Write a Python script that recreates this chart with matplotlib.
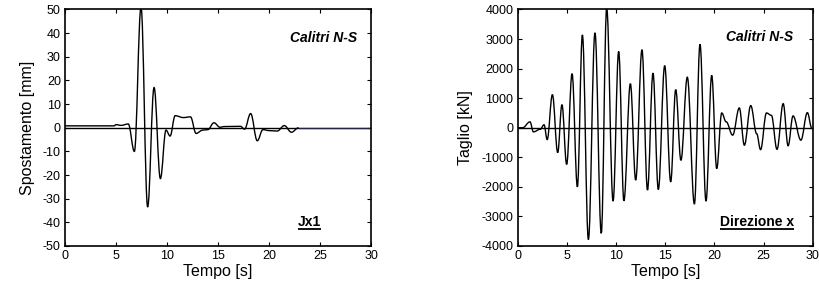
import matplotlib
matplotlib.use('Agg')
import matplotlib.pyplot as plt
from matplotlib.path import Path
from matplotlib.patches import PathPatch

plt.rcParams['font.family'] = ['Liberation Sans', 'DejaVu Sans']
plt.rcParams['axes.unicode_minus'] = False

# Left panel: displacement of joint Jx1 (extrema)
t_disp = [0, 4.8, 5.0, 5.5, 6.2, 6.8, 7.45, 8.1, 8.73, 9.35, 9.9, 10.3, 10.8,
          11.6, 12.3, 12.85, 13.5, 14.0, 14.6, 15.2, 15.6, 17.2, 17.6, 18.2,
          18.85, 19.4, 20.0, 20.8, 21.5, 22.2, 22.9]
v_disp = [0.8, 0.8, 1.3, 1.0, 1.6, -10, 51, -33.5, 17, -21.5, -1.0, -3.5, 5.1,
          4.3, 4.6, -2.4, -1.0, -0.8, 2.1, 0.2, 0.5, 0.6, -0.6, 6.0,
          -5.5, -0.8, -1.2, -1.4, 0.9, -1.9, 0]
t_disp_tail = [22.9, 30]
v_disp_tail = [0, 0]

# Right panel: base shear, direction x
t_shear = [0, 0.5, 1.25, 1.6, 2.3, 2.68, 3.0, 3.53, 4.07, 4.5, 4.98, 5.53, 6.07,
           6.58, 7.19, 7.86, 8.5, 9.05, 9.7, 10.27, 10.8, 11.46, 12.0, 12.64,
           13.2, 13.76, 14.3, 14.95, 15.56, 16.07, 16.6, 17.25, 17.97, 18.54,
           19.15, 19.73, 20.24, 20.75, 21.2, 21.86, 22.54, 23.05, 23.7, 24.3,
           24.7, 25.3, 25.8, 26.37, 27.0, 27.5, 28.0, 28.8, 29.46, 29.9]
v_shear = [0, 0, 200, -140, -50, 100, -400, 1120, -840, 780, -1240, 1830, -2000,
           3140, -3780, 3210, -3570, 4050, -2480, 2580, -2470, 1490, -1770, 2640,
           -2110, 1850, -2090, 2100, -1830, 1290, -1100, 1710, -2580, 2820,
           -2480, 1770, -1380, 500, 200, -250, 670, -590, 750, -200,
           -740, 500, 420, -730, 815, -610, 400, -420, 510, 0]


def smooth_path(t, v, k=0.38):
    # cubic bezier through the read extrema, flat tangent at each point
    verts = [(t[0], v[0])]
    codes = [Path.MOVETO]
    for i in range(1, len(t)):
        dt = t[i] - t[i - 1]
        verts += [(t[i - 1] + k * dt, v[i - 1]), (t[i] - k * dt, v[i]), (t[i], v[i])]
        codes += [Path.CURVE4] * 3
    return Path(verts, codes)


def style_axes(ax):
    for s in ax.spines.values():
        s.set_linewidth(1.2)
    ax.tick_params(direction='in', top=True, right=True, length=3, width=0.8,
                   labelsize=9, pad=3)
    ax.set_xlim(0, 30)
    ax.set_xticks(range(0, 31, 5))
    ax.set_xlabel('Tempo [s]', fontsize=11.5, labelpad=1)


def underline(ax, txt, y_frac):
    # draw a line just under the text baseline, using its rendered width
    fig.canvas.draw()
    bb = txt.get_window_extent().transformed(ax.transAxes.inverted())
    y = y_frac - 0.013
    ax.plot([bb.x0, bb.x1], [y, y], transform=ax.transAxes, color='black',
            lw=1.3, clip_on=False, solid_capstyle='butt')


fig = plt.figure(figsize=(8.19, 2.87), dpi=100)

ax1 = fig.add_axes([0.0794, 0.1429, 0.3736, 0.824])
ax1.axhline(0, color='black', lw=1)
ax1.add_patch(PathPatch(smooth_path(t_disp, v_disp), facecolor='none',
                        edgecolor='black', lw=1))
ax1.plot(t_disp_tail, v_disp_tail, color='#22225a', lw=0.9)
ax1.set_ylim(-50, 50)
ax1.set_yticks(range(-50, 51, 10))
ax1.set_ylabel('Spostamento [mm]', fontsize=11.5, labelpad=6)
style_axes(ax1)
ax1.text(0.954, 0.864, 'Calitri N-S', transform=ax1.transAxes, ha='right',
         va='baseline', fontsize=10, fontweight='bold', fontstyle='italic')
t1 = ax1.text(0.8, 0.085, 'Jx1', transform=ax1.transAxes, ha='center',
              va='baseline', fontsize=10, fontweight='bold')

ax2 = fig.add_axes([0.6321, 0.1429, 0.3602, 0.824])
ax2.axhline(0, color='black', lw=1)
ax2.add_patch(PathPatch(smooth_path(t_shear, v_shear), facecolor='none',
                        edgecolor='black', lw=1))
ax2.set_ylim(-4000, 4000)
ax2.set_yticks(range(-4000, 4001, 1000))
ax2.set_ylabel('Taglio [kN]', fontsize=11.5, labelpad=6)
style_axes(ax2)
ax2.text(0.933, 0.866, 'Calitri N-S', transform=ax2.transAxes, ha='right',
         va='baseline', fontsize=10, fontweight='bold', fontstyle='italic')
t2 = ax2.text(0.937, 0.086, 'Direzione x', transform=ax2.transAxes, ha='right',
              va='baseline', fontsize=10, fontweight='bold')

underline(ax1, t1, 0.085)
underline(ax2, t2, 0.086)

fig.savefig('out.png', dpi=100)
